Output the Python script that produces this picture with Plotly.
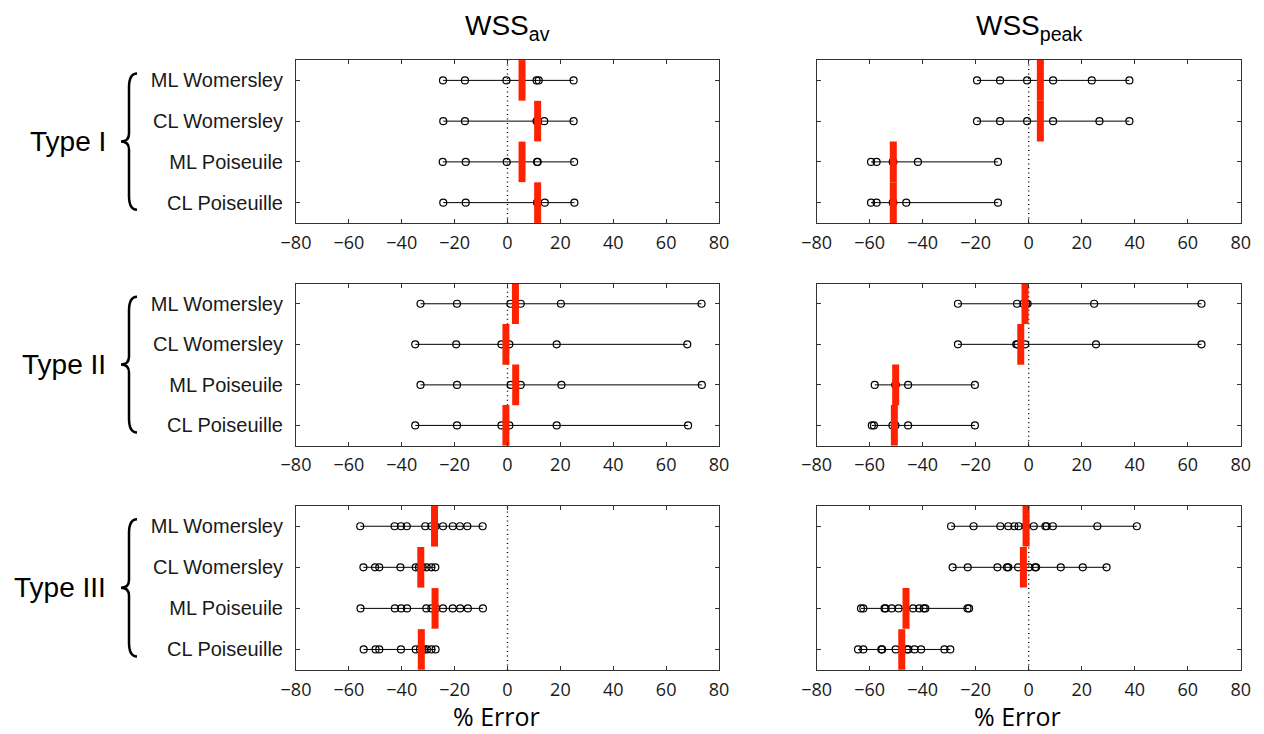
import plotly.graph_objects as go

# ---------------- data ----------------
categories = ["ML Womersley", "CL Womersley", "ML Poiseuile", "CL Poiseuille"]
type_labels = ["Type I", "Type II", "Type III"]
metric_titles = ["WSS<sub>av</sub>", "WSS<sub>peak</sub>"]
x_ticks = [-80, -60, -40, -20, 0, 20, 40, 60, 80]

type1_av = [
    [-24.4, -16.1, -0.4, 11.0, 11.8, 25.0],
    [-24.3, -16.1, 11.0, 11.4, 13.9, 25.0],
    [-24.5, -15.8, -0.3, 11.2, 11.4, 25.2],
    [-24.3, -15.8, 11.2, 11.4, 14.1, 25.3],
]
type1_av_median = [5.5, 11.4, 5.5, 11.4]

type1_peak = [
    [-19.5, -10.8, -0.6, 9.2, 23.8, 38.0],
    [-19.5, -10.8, -0.6, 9.2, 26.7, 38.0],
    [-59.5, -57.4, -51.3, -51.1, -41.8, -11.6],
    [-59.5, -57.4, -51.3, -51.1, -46.2, -11.6],
]
type1_peak_median = [4.4, 4.4, -51.1, -51.1]

type2_av = [
    [-32.9, -19.1, 1.1, 5.0, 20.2, 73.4],
    [-34.9, -19.4, -2.3, 0.7, 18.6, 68.0],
    [-32.9, -19.1, 1.2, 5.0, 20.4, 73.5],
    [-34.9, -19.1, -2.3, 0.7, 18.6, 68.3],
]
type2_av_median = [3.0, -0.6, 3.1, -0.6]

type2_peak = [
    [-26.7, -4.4, -2.0, -1.0, -0.4, 24.7, 65.2],
    [-26.7, -4.7, -4.2, -1.3, 25.4, 65.2],
    [-58.1, -50.3, -50.2, -45.5, -20.3],
    [-59.2, -58.4, -51.4, -50.3, -45.5, -20.3],
]
type2_peak_median = [-1.4, -3.0, -50.2, -50.7]

type3_av = [
    [-55.7, -42.7, -40.3, -38.1, -31.1, -28.8, -27.2, -24.4, -20.7, -18.0, -15.2, -9.4],
    [-54.5, -50.1, -48.5, -40.5, -34.7, -33.5, -32.8, -32.1, -30.6, -28.8, -27.3],
    [-55.6, -42.6, -40.2, -38.0, -30.7, -28.8, -27.0, -24.4, -20.7, -17.9, -15.0, -9.3],
    [-54.4, -49.9, -48.5, -40.3, -34.7, -33.1, -32.3, -31.6, -30.5, -28.8, -27.2],
]
type3_av_median = [-27.6, -32.8, -27.4, -32.6]

type3_peak = [
    [-29.3, -20.8, -10.7, -7.7, -5.4, -3.8, -1.1, 1.9, 6.3, 6.8, 9.1, 25.9, 40.8],
    [-28.7, -23.0, -11.8, -8.2, -7.7, -4.0, 0.1, 2.4, 2.8, 12.1, 20.4, 29.4],
    [-63.3, -62.4, -54.4, -54.0, -51.7, -49.1, -43.6, -41.3, -39.6, -39.0, -23.1, -22.5],
    [-64.4, -62.4, -55.6, -55.3, -50.2, -46.0, -45.4, -43.1, -40.6, -31.8, -29.6],
]
type3_peak_median = [-1.0, -2.0, -46.3, -47.9]

panels = [
    (type1_av, type1_av_median), (type1_peak, type1_peak_median),
    (type2_av, type2_av_median), (type2_peak, type2_peak_median),
    (type3_av, type3_av_median), (type3_peak, type3_peak_median),
]

# ---------------- layout geometry ----------------
W, H = 1264, 734
x_dom = [[296 / W, 719 / W], [816.7 / W, 1240.7 / W]]
y_px = [(60, 223), (283.5, 445.7), (505.7, 670)]  # (top, bottom) in pixels
y_dom = [[1 - b / H, 1 - t / H] for (t, b) in y_px]

LABEL_FONT = "Liberation Sans, Arial, sans-serif"
TICK_FONT = "Open Sans, sans-serif"
FRAME = "#333333"

fig = go.Figure()
layout = dict(
    width=W, height=H, margin=dict(l=0, r=0, t=0, b=0, autoexpand=False),
    plot_bgcolor="white", paper_bgcolor="white", showlegend=False,
)

shapes = []
annotations = []
rows_idx = list(range(1, len(categories) + 1))

for p, (vals, med) in enumerate(panels):
    r, c = divmod(p, 2)
    k = p + 1
    xa = "x" if k == 1 else f"x{k}"
    ya = "y" if k == 1 else f"y{k}"
    # zero reference line
    shapes.append(dict(type="line", xref=xa, yref=f"{ya} domain", x0=0, x1=0, y0=0, y1=1,
                       line=dict(color="black", width=1.4, dash="1px,3.5px"), layer="below"))
    for i, v in enumerate(vals):
        xs = sorted(v)
        fig.add_trace(go.Scatter(
            x=xs, y=[rows_idx[i]] * len(xs), xaxis=xa, yaxis=ya,
            mode="lines+markers",
            line=dict(color="black", width=1),
            marker=dict(symbol="circle-open", size=7, color="black", line=dict(width=1.2)),
            hoverinfo="x",
        ))
    fig.add_trace(go.Scatter(
        x=med, y=rows_idx, xaxis=xa, yaxis=ya, mode="markers",
        marker=dict(symbol="line-ns", size=29, color="#ff2200",
                    line=dict(color="#ff2200", width=7)),
        hoverinfo="x",
    ))
    xkey = "xaxis" if k == 1 else f"xaxis{k}"
    ykey = "yaxis" if k == 1 else f"yaxis{k}"
    layout[xkey] = dict(
        domain=x_dom[c], anchor=ya, range=[-80, 80], tickmode="array", tickvals=x_ticks,
        ticks="inside", ticklen=4, tickcolor=FRAME, mirror="ticks", showline=True,
        linecolor=FRAME, linewidth=1, showgrid=False, zeroline=False, automargin=False,
        tickfont=dict(family=TICK_FONT, size=18, color="#1a1a1a"), ticklabelstandoff=3,
    )
    layout[ykey] = dict(
        domain=y_dom[r], anchor=xa, range=[4.5, 0.5], tickmode="array", tickvals=rows_idx,
        ticktext=categories, showticklabels=(c == 0),
        ticks="inside", ticklen=4, tickcolor=FRAME, mirror="ticks", showline=True,
        linecolor=FRAME, linewidth=1, showgrid=False, zeroline=False, automargin=False,
        tickfont=dict(family=LABEL_FONT, size=20, color="#1a1a1a"), ticklabelstandoff=8,
    )

# column titles
for c, t in enumerate(metric_titles):
    annotations.append(dict(text=t, x=sum(x_dom[c]) / 2, y=1 - 27 / H, xref="paper", yref="paper",
                            showarrow=False, xanchor="center", yanchor="middle",
                            font=dict(family=LABEL_FONT, size=28, color="black")))
    annotations.append(dict(text="% Error", x=(sum(x_dom[c]) / 2) - 11 / W, y=1 - 716 / H,
                            xref="paper", yref="paper", showarrow=False,
                            xanchor="center", yanchor="middle",
                            font=dict(family=TICK_FONT, size=25, color="black")))

# row labels with braces
def px(x):
    return x / W

def py(y):
    return 1 - y / H

for r, lab in enumerate(type_labels):
    top, bot = y_px[r]
    step = (bot - top) / 4
    y0 = top + 0.5 * step - 7
    y1 = top + 3.5 * step + 7
    ym = (y0 + y1) / 2
    annotations.append(dict(text=lab, x=px(108), y=py(ym), xref="paper", yref="paper",
                            showarrow=False, xanchor="right", yanchor="middle",
                            font=dict(family=LABEL_FONT, size=28, color="black")))
    xr, xm, xt = 137, 129, 121
    path = (f"M {px(xr)},{py(y0)} Q {px(xm)},{py(y0)} {px(xm)},{py(y0 + 14)} "
            f"L {px(xm)},{py(ym - 8)} Q {px(xm)},{py(ym)} {px(xt)},{py(ym)} "
            f"Q {px(xm)},{py(ym)} {px(xm)},{py(ym + 8)} "
            f"L {px(xm)},{py(y1 - 14)} Q {px(xm)},{py(y1)} {px(xr)},{py(y1)}")
    shapes.append(dict(type="path", xref="paper", yref="paper", path=path,
                       line=dict(color="black", width=2.5)))

layout["shapes"] = shapes
layout["annotations"] = annotations
fig.update_layout(**layout)
fig.write_html("out.html", config={"displayModeBar": False},
               post_script="document.body.style.margin='0px';document.body.style.overflow='hidden';")
